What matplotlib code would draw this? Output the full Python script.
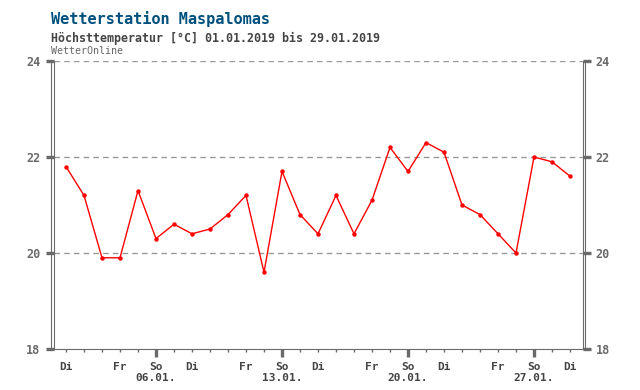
import matplotlib
matplotlib.use("Agg")
import matplotlib.pyplot as plt
import matplotlib.transforms as mtransforms

# daily max temperature, 01.01.2019 - 29.01.2019
days = list(range(1, 30))
temps = [21.8, 21.2, 19.9, 19.9, 21.3, 20.3, 20.6, 20.4, 20.5, 20.8,
         21.2, 19.6, 21.7, 20.8, 20.4, 21.2, 20.4, 21.1, 22.2, 21.7,
         22.3, 22.1, 21.0, 20.8, 20.4, 20.0, 22.0, 21.9, 21.6]
weekdays = ["Di", "Mi", "Do", "Fr", "Sa", "So", "Mo"]  # 01.01.2019 is a Tuesday
y_ticks = [18, 20, 22, 24]

title = "Wetterstation Maspalomas"
subtitle = "Höchsttemperatur [°C] 01.01.2019 bis 29.01.2019"
source = "WetterOnline"

W, H = 640, 390
MONO = "DejaVu Sans Mono"
AXIS_GREY = "#6a6a6a"
TEXT_GREY = "#444444"

fig = plt.figure(figsize=(W / 100, H / 100), dpi=100)
ax = fig.add_axes([53.5 / W, 1 - 349 / H, (582.5 - 53.5) / W, (349 - 61) / H])

# data line
ax.plot(days, temps, color="#ff0000", lw=1, marker="o", ms=2.2, zorder=3)

ax.set_xlim(1 - 12.5 / 18, 29 + 12.5 / 18)
ax.set_ylim(18, 24)

# dashed grid
for v in y_ticks[1:]:
    ax.axhline(v, color="#999999", lw=1, ls=(0, (4, 3)), zorder=1)

# frame: double lines left / right, single at bottom
ax.spines["top"].set_visible(False)
for side in ("left", "right", "bottom"):
    ax.spines[side].set_color(AXIS_GREY)
    ax.spines[side].set_linewidth(0.8)
off_l = mtransforms.ScaledTranslation(-2.7 / 100, 0, fig.dpi_scale_trans)
off_r = mtransforms.ScaledTranslation(2.7 / 100, 0, fig.dpi_scale_trans)
ax.plot([0, 0], [0, 1], transform=ax.transAxes + off_l, color=AXIS_GREY,
        lw=0.8, clip_on=False)
ax.plot([1, 1], [0, 1], transform=ax.transAxes + off_r, color=AXIS_GREY,
        lw=0.8, clip_on=False)

# y ticks on both sides
ax.set_yticks(y_ticks)
ax.tick_params(axis="y", which="both", left=True, right=True,
               labelleft=True, labelright=True, length=6, width=2.4,
               color=AXIS_GREY, pad=3.5, labelsize=8.5, labelcolor=AXIS_GREY)
for lbl in ax.get_yticklabels():
    lbl.set_fontfamily(MONO)
    lbl.set_fontweight("bold")

# x ticks: Sundays major, other days minor
sundays = [d for d in days if weekdays[(d - 1) % 7] == "So"]
others = [d for d in days if d not in sundays]
ax.set_xticks(sundays)
ax.set_xticklabels([f"So\n{d:02d}.01." for d in sundays])
ax.set_xticks(others, minor=True)
ax.set_xticklabels([weekdays[(d - 1) % 7] if weekdays[(d - 1) % 7] in ("Di", "Fr") else ""
                    for d in others], minor=True)
ax.tick_params(axis="x", which="major", length=5.5, width=2.4, color=AXIS_GREY,
               pad=4, labelsize=8, labelcolor=TEXT_GREY)
ax.tick_params(axis="x", which="minor", length=2.5, width=1, color=AXIS_GREY,
               pad=7, labelsize=8, labelcolor=TEXT_GREY)
for lbl in ax.get_xticklabels() + ax.get_xticklabels(minor=True):
    lbl.set_fontfamily(MONO)
    lbl.set_fontweight("bold")
    lbl.set_linespacing(1.05)

# headings
fig.text(51 / W, 1 - 19 / H, title, fontfamily=MONO, fontweight="bold",
         fontsize=11, color="#00507d", va="center", ha="left")
fig.text(51 / W, 1 - 38 / H, subtitle, fontfamily=MONO, fontweight="bold",
         fontsize=8.4, color=TEXT_GREY, va="center", ha="left")
fig.text(51 / W, 1 - 51 / H, source, fontfamily=MONO,
         fontsize=7.2, color="#666666", va="center", ha="left")

fig.savefig("out.png", dpi=100)
